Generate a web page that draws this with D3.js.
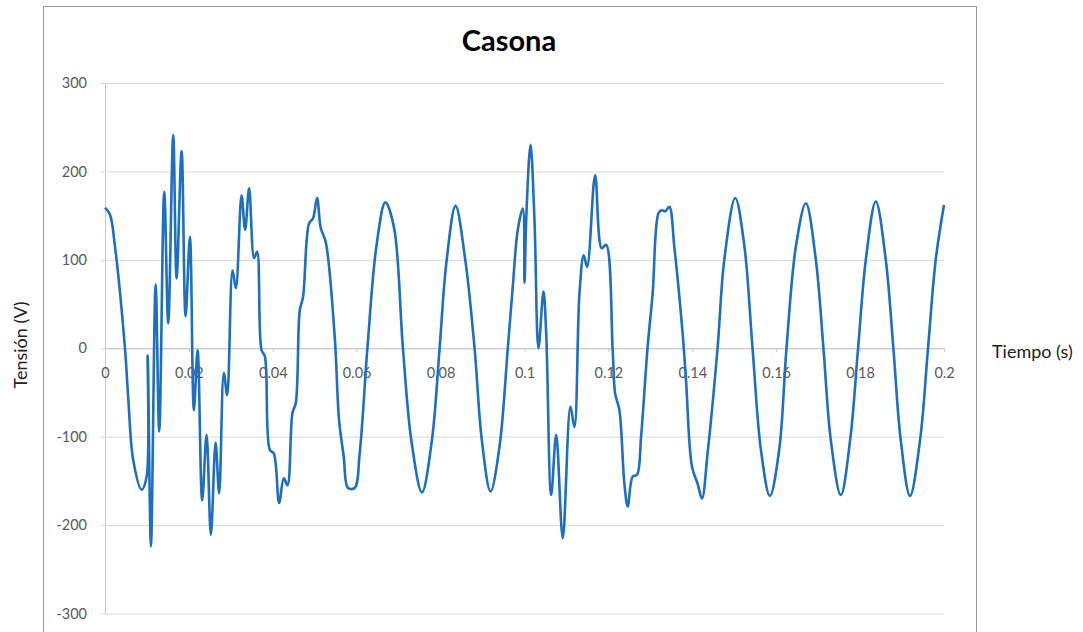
<!DOCTYPE html>
<html><head><meta charset="utf-8">
<script src="https://cdn.jsdelivr.net/npm/d3@7"></script>
<style>body{margin:0;background:#fff;overflow:hidden}svg{display:block}</style>
</head><body><svg id="c" width="1083" height="632"></svg>
<script>
const title = "Casona";
const xTitle = "Tiempo (s)";
const yTitle = "Tensión (V)";
const xTicks = [0,0.02,0.04,0.06,0.08,0.1,0.12,0.14,0.16,0.18,0.2];
const xTickLabels = ["0","0.02","0.04","0.06","0.08","0.1","0.12","0.14","0.16","0.18","0.2"];
const yTicks = [-300,-200,-100,0,100,200,300];
const yTickLabels = ["-300","-200","-100","0","100","200","300"];
const time = [0,0.00119,0.00238,0.00476,0.00555,0.00674,0.00874,0.00993,0.01017,0.01095,0.01207,0.01293,0.01412,0.01507,0.01626,0.01707,0.01826,0.01921,0.02024,0.02119,0.02207,0.02317,0.02421,0.02524,0.02636,0.02721,0.02833,0.02912,0.0304,0.03119,0.03255,0.0334,0.03436,0.03555,0.03626,0.03731,0.0381,0.03929,0.04024,0.0415,0.04262,0.0435,0.04469,0.04548,0.04643,0.04721,0.04864,0.0496,0.05055,0.05143,0.05262,0.05476,0.05579,0.0569,0.05793,0.05952,0.06071,0.06255,0.06469,0.06683,0.06888,0.07102,0.07302,0.07555,0.07793,0.07976,0.08136,0.08357,0.08588,0.0881,0.08983,0.0919,0.09405,0.09602,0.09721,0.0984,0.0996,0.1,0.1004,0.10143,0.10238,0.10333,0.10452,0.10517,0.10636,0.10755,0.10912,0.11095,0.1119,0.1131,0.11412,0.11493,0.11683,0.1184,0.11945,0.12102,0.1216,0.12262,0.12381,0.1246,0.12579,0.12683,0.12779,0.12936,0.13055,0.13198,0.13279,0.13357,0.13452,0.13571,0.13769,0.1385,0.13993,0.14126,0.14231,0.14364,0.14602,0.14762,0.15024,0.15238,0.15436,0.15636,0.1585,0.16071,0.16245,0.16469,0.16707,0.16945,0.17126,0.17302,0.1754,0.17762,0.17952,0.18136,0.18374,0.18612,0.18793,0.18969,0.1919,0.19429,0.19619,0.19802,0.2];
const voltage = [159,151,115,0,-57,-127,-160,-145,-8,-224,72,-94,177,28,241,79,223,36,126,-70,-2,-172,-98,-211,-107,-164,-28,-53,88,68,173,134,181,102,109,-2,-9,-115,-119,-175,-147,-155,-73,-62,43,58,141,147,170,136,120,13,-81,-122,-158,-158,-119,0,115,165,137,0,-104,-163,-104,0,96,161,100,0,-104,-162,-111,0,70,134,158,74,145,230,145,0,64,17,-166,-98,-215,-66,-89,62,105,92,196,113,117,-2,-51,-70,-153,-179,-145,-143,-100,2,62,153,156,155,160,115,17,-36,-134,-153,-170,-119,0,100,170,117,0,-115,-167,-115,0,115,164,100,0,-104,-166,-104,0,100,166,100,0,-104,-167,-104,0,100,162];

const svg = d3.select("#c");
const font = "Lato, 'Open Sans', sans-serif";
const x = d3.scaleLinear().domain([0,0.2]).range([105,944]);
const y = d3.scaleLinear().domain([-300,300]).range([613.5,83]);

// chart border
svg.append("rect").attr("x",43.5).attr("y",6.5).attr("width",933).attr("height",640)
  .attr("fill","none").attr("stroke","#9a9a9a").attr("stroke-width",1);

// gridlines + y axis
const yAxis = d3.axisLeft(y).tickValues(yTicks).tickSize(-(944-105)).tickSizeOuter(0).tickPadding(18)
  .tickFormat((d,i)=>yTickLabels[i]);
const gy = svg.append("g").attr("transform","translate(105,0)").call(yAxis);
gy.select(".domain").attr("stroke","#c8c8c8");
gy.selectAll(".tick line").attr("stroke","#d9d9d9").attr("x1",-5);
gy.selectAll(".tick text").attr("fill","#595959").attr("font-family",font).attr("font-size",14.5);

// x axis at y=0
const xAxis = d3.axisBottom(x).tickValues(xTicks).tickSize(4).tickSizeOuter(0).tickPadding(15)
  .tickFormat((d,i)=>xTickLabels[i]);
const gx = svg.append("g").attr("transform",`translate(0,${y(0)})`).call(xAxis);
gx.select(".domain").attr("stroke","#c8c8c8");
gx.selectAll(".tick line").attr("stroke","#c8c8c8");
gx.selectAll(".tick text").attr("fill","#595959").attr("font-family",font).attr("font-size",14.5);

// series
const pts = time.map((t,i)=>[t,voltage[i]]);
svg.append("path").datum(pts)
  .attr("d", d3.line().x(d=>x(d[0])).y(d=>y(d[1])).curve(d3.curveCatmullRom.alpha(0.5)))
  .attr("fill","none").attr("stroke","#1c6fc1").attr("stroke-width",2.6).attr("stroke-linejoin","round");

// titles
svg.append("text").attr("x",509).attr("y",51).attr("text-anchor","middle")
  .attr("font-family",font).attr("font-weight","bold").attr("font-size",29).attr("fill","#000").text(title);
svg.append("text").attr("x",992).attr("y",358).attr("font-family",font).attr("font-size",18).attr("fill","#222").text(xTitle);
svg.append("text").attr("transform","translate(27,345) rotate(-90)").attr("text-anchor","middle")
  .attr("font-family",font).attr("font-size",18).attr("fill","#222").text(yTitle);
</script></body></html>
